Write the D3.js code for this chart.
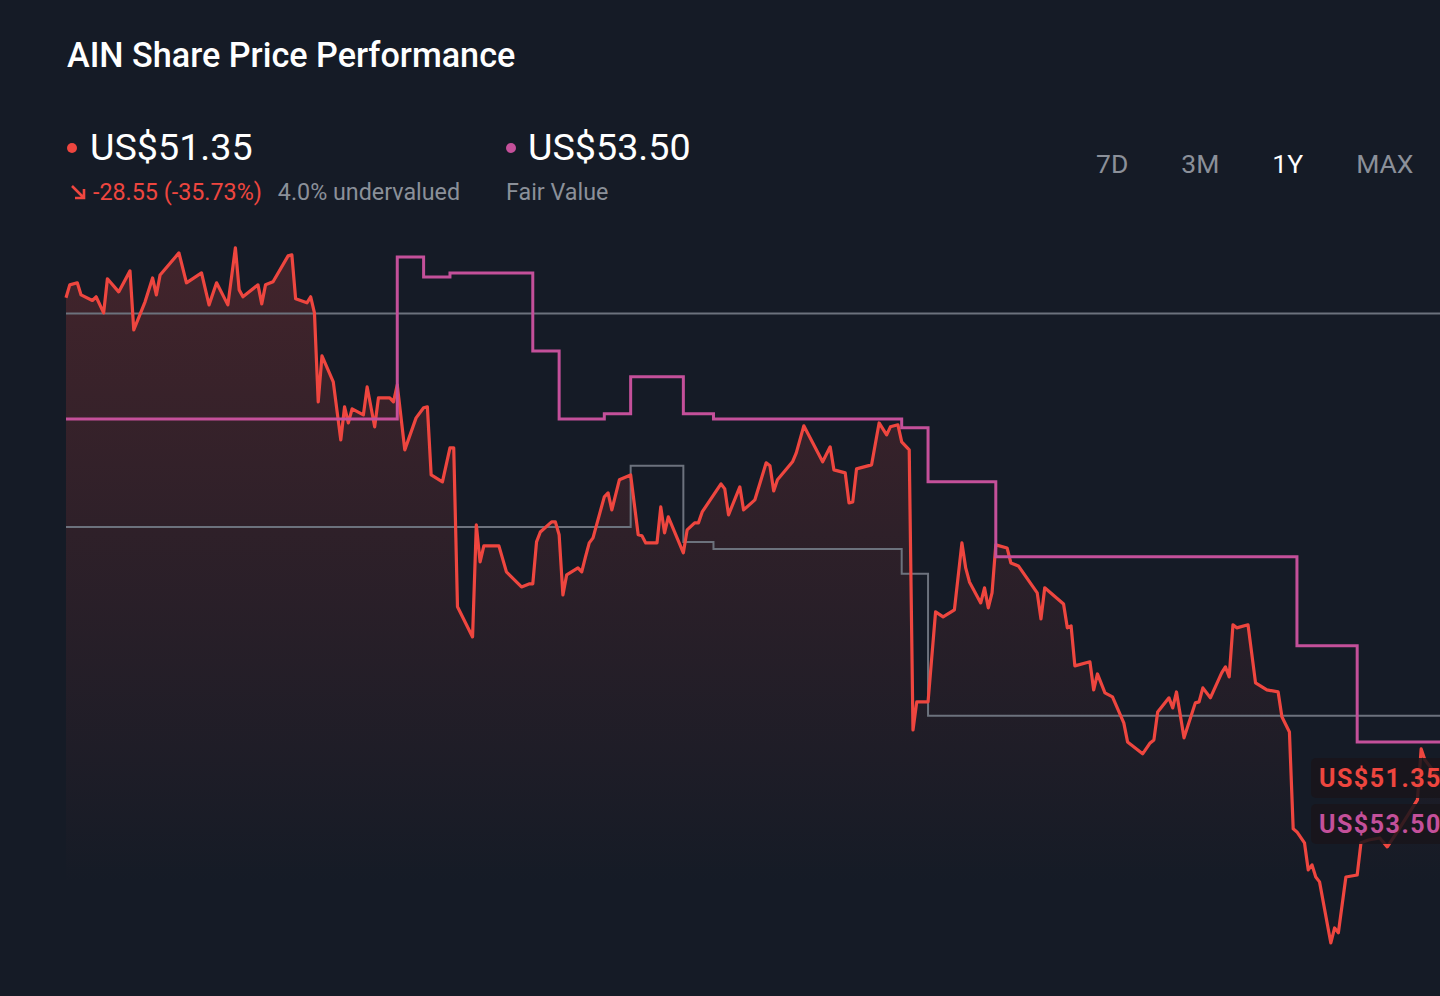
<!DOCTYPE html>
<html>
<head>
<meta charset="utf-8">
<script src="https://cdn.jsdelivr.net/npm/d3@7"></script>
<style>
  html, body { margin: 0; padding: 0; background: #151b26; }
  svg { display: block; font-family: Roboto, "Noto Sans", sans-serif; }
</style>
</head>
<body>
<div id="chart"></div>
<script>
// ---- data ----
const startDate = new Date(2024, 2, 18);

const priceDays = [0,1,3,4,7,8,10,11,14,17,18,21,23,24,25,30,32,36,38,40,43,45,46,47,51,52,53,55,59,60,61,64,65,66,67,68,71,73,74,75,76,79,80,82,83,86,87,88,90,93,95,96,97,100,102,103,104,108,109,110,111,115,117,121,123,124,125,126,129,130,131,132,133,136,137,138,139,140,143,144,145,147,150,152,153,154,157,158,159,160,164,165,167,168,169,174,175,176,179,180,183,186,187,188,189,193,194,196,201,203,204,207,208,209,210,214,216,218,219,221,222,224,225,226,229,230,231,233,236,238,239,240,243,244,245,246,247,250,251,253,258,259,260,265,266,267,268,272,273,274,276,278,281,282,286,288,289,290,293,294,295,297,300,301,302,304,307,308,309,310,311,314,316,319,322,323,325,326,327,329,330,331,332,333,336,337,338,340,343,344,346,349,351,354,356,359,360,361,363,365];

const prices = [79.90,80.67,80.79,80.07,79.74,79.96,79.00,81.03,80.25,81.50,77.99,79.66,81.08,80.07,81.26,82.57,80.79,81.38,79.48,80.79,79.48,82.87,80.37,79.96,80.67,79.54,80.67,80.85,82.39,82.45,79.84,79.60,79.96,79.00,73.71,76.45,74.90,71.45,73.42,72.46,73.30,72.94,74.60,72.23,73.95,73.95,73.71,74.72,70.86,72.76,73.36,73.42,69.37,68.96,70.98,70.98,61.53,59.74,66.40,64.20,65.15,65.15,63.61,62.71,62.89,62.89,65.39,65.98,66.58,66.58,65.81,62.24,63.43,63.84,63.61,64.50,65.33,65.63,68.07,68.30,67.29,69.08,69.37,65.81,65.75,65.33,65.33,67.47,65.93,66.88,64.74,66.10,66.52,66.52,67.17,68.84,68.54,67.00,68.66,67.29,67.89,70.09,69.91,68.42,69.08,70.15,70.68,72.29,70.15,71.04,69.67,69.49,67.71,67.77,69.73,69.97,72.46,71.75,72.23,72.35,71.34,70.86,54.21,55.88,55.88,58.55,61.23,60.93,61.35,65.33,63.84,63.01,61.76,62.66,61.47,62.36,65.21,65.03,64.14,63.96,62.36,60.81,62.66,61.70,60.28,60.40,58.02,58.26,56.59,57.54,56.41,56.18,54.63,53.50,52.79,53.44,53.62,55.28,56.12,55.52,56.47,53.74,55.82,55.88,56.71,56.12,57.60,57.96,57.36,60.46,60.28,60.46,57.01,56.59,56.47,54.99,54.09,48.33,48.15,47.50,45.89,46.19,45.47,45.18,41.55,42.44,42.15,45.47,45.59,47.50,47.67,47.79,47.26,48.27,48.98,50.05,53.08,52.43,51.84,51.35];

const fairValueDays = [0, 88, 95, 102, 124, 131, 143, 150, 164, 172, 222, 229, 247, 327, 343, 365];
const fairValues = [72.70, 82.33, 81.14, 81.38, 76.74, 72.70, 73.00, 75.20, 73.00, 72.70, 72.17, 68.96, 64.50, 59.21, 53.50, 53.50];

const refStepDays = [0, 150, 164, 172, 222, 229, 365];
const refStepValues = [66.28, 69.91, 65.39, 64.97, 63.49, 55.05, 55.05];

const refTopDays = [0, 365];
const refTopValues = [78.96, 78.96];

const periods = ["7D", "3M", "1Y", "MAX"];
const activePeriod = "1Y";

const ticker = "AIN";
const lastPrice = 51.35;
const fairValue = 53.50;
const priceChange = -28.55;
const pctChange = -35.73;
const undervaluedPct = 4.0;

// ---- layout ----
const W = 1440, H = 996;
const plot = { left: 66, right: 1440, top: 212, bottom: 969, fillBottom: 887 };
const RED = "#ee463f", PINK = "#c4509a", GREY = "#6c727d", MUTED = "#8b9099";

const toDate = d => d3.timeDay.offset(startDate, d);
const priceData = priceDays.map((d, i) => ({ date: toDate(d), value: prices[i] }));
const fairData = fairValueDays.map((d, i) => ({ date: toDate(d), value: fairValues[i] }));
const stepData = refStepDays.map((d, i) => ({ date: toDate(d), value: refStepValues[i] }));
const topData = refTopDays.map((d, i) => ({ date: toDate(d), value: refTopValues[i] }));

const x = d3.scaleTime()
    .domain([toDate(0), toDate(365)])
    .range([plot.left, plot.right]);

const y = d3.scaleLinear()
    .domain([40, 85])
    .range([plot.bottom, plot.top]);

const svg = d3.select("#chart")
    .append("svg")
    .attr("width", W)
    .attr("height", H);

svg.append("rect").attr("width", W).attr("height", H).attr("fill", "#151b26");

// gradient under the price line
const defs = svg.append("defs");
const grad = defs.append("linearGradient")
    .attr("id", "priceFill")
    .attr("gradientUnits", "userSpaceOnUse")
    .attr("x1", 0).attr("x2", 0)
    .attr("y1", y(83)).attr("y2", plot.fillBottom);
grad.append("stop").attr("offset", "0%").attr("stop-color", RED).attr("stop-opacity", 0.21);
grad.append("stop").attr("offset", "100%").attr("stop-color", RED).attr("stop-opacity", 0);

svg.append("path")
    .datum(priceData)
    .attr("fill", "url(#priceFill)")
    .attr("d", d3.area()
        .x(d => x(d.date))
        .y0(plot.fillBottom)
        .y1(d => y(d.value)));

// grey reference lines
const stepLine = d3.line().x(d => x(d.date)).y(d => y(d.value)).curve(d3.curveStepAfter);

[topData, stepData].forEach(data => {
    svg.append("path")
        .datum(data)
        .attr("fill", "none")
        .attr("stroke", GREY)
        .attr("stroke-width", 2)
        .attr("d", stepLine);
});

// price line
svg.append("path")
    .datum(priceData)
    .attr("fill", "none")
    .attr("stroke", RED)
    .attr("stroke-width", 3.2)
    .attr("stroke-linejoin", "round")
    .attr("d", d3.line().x(d => x(d.date)).y(d => y(d.value)));

// fair value line
svg.append("path")
    .datum(fairData)
    .attr("fill", "none")
    .attr("stroke", PINK)
    .attr("stroke-width", 3)
    .attr("d", stepLine);

// end labels (cut off by the right edge, as in the original)
const labelH = 40, labelX = 1311;
const priceLabelY = y(lastPrice) - labelH / 2;
const fairLabelY = priceLabelY + labelH + 6;

[
    { top: priceLabelY, text: `US$${lastPrice.toFixed(2)}`, color: RED },
    { top: fairLabelY, text: `US$${fairValue.toFixed(2)}`, color: PINK }
].forEach(l => {
    const g = svg.append("g");
    const rect = g.append("rect")
        .attr("x", labelX)
        .attr("y", l.top)
        .attr("height", labelH)
        .attr("rx", 5)
        .attr("fill", "rgba(24,21,27,0.86)");
    const t = g.append("text")
        .attr("x", labelX + 8)
        .attr("y", l.top + labelH / 2 + 9)
        .attr("fill", l.color)
        .style("font-size", "25px")
        .style("font-weight", 700)
        .style("letter-spacing", "1.5px")
        .text(l.text);
    rect.attr("width", t.node().getComputedTextLength() + 20);
});

// ---- header ----
svg.append("text")
    .attr("x", 67).attr("y", 67)
    .attr("fill", "#ffffff")
    .style("font-size", "34.2px")
    .style("font-weight", 500)
    .text(`${ticker} Share Price Performance`);

svg.append("circle").attr("cx", 72).attr("cy", 148).attr("r", 5).attr("fill", RED);
svg.append("text")
    .attr("x", 90).attr("y", 160)
    .attr("fill", "#ffffff")
    .style("font-size", "37.7px")
    .text(`US$${lastPrice.toFixed(2)}`);

svg.append("circle").attr("cx", 511).attr("cy", 148).attr("r", 5).attr("fill", PINK);
svg.append("text")
    .attr("x", 528).attr("y", 160)
    .attr("fill", "#ffffff")
    .style("font-size", "37.7px")
    .text(`US$${fairValue.toFixed(2)}`);

// down arrow icon
svg.append("path")
    .attr("transform", "translate(71,185)")
    .attr("d", "M1,1 L13,13 M4,13 L13,13 L13,4")
    .attr("fill", "none")
    .attr("stroke", RED)
    .attr("stroke-width", 2.6);

const changeText = svg.append("text")
    .attr("x", 93).attr("y", 200)
    .attr("fill", RED)
    .style("font-size", "23.3px")
    .text(`${priceChange.toFixed(2)} (${pctChange.toFixed(2)}%)`);

svg.append("text")
    .attr("x", 93 + changeText.node().getComputedTextLength() + 16).attr("y", 200)
    .attr("fill", MUTED)
    .style("font-size", "23.3px")
    .text(`${undervaluedPct.toFixed(1)}% undervalued`);

svg.append("text")
    .attr("x", 506).attr("y", 200)
    .attr("fill", MUTED)
    .style("font-size", "23.3px")
    .text("Fair Value");

// period selector
let px = 1096;
periods.forEach(p => {
    const t = svg.append("text")
        .attr("x", px).attr("y", 173)
        .attr("fill", p === activePeriod ? "#ffffff" : MUTED)
        .style("font-size", "26.5px")
        .text(p);
    px += t.node().getComputedTextLength() + 53;
});
</script>
</body>
</html>
